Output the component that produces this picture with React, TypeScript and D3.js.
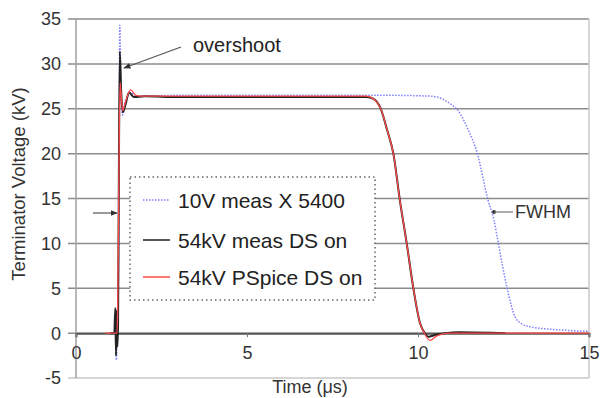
import { useRef, useEffect } from 'react'
import * as d3 from 'd3'

// time (us) / voltage (kV)
const blueT = [1.0, 1.15, 1.18, 1.21, 1.25, 1.28, 1.31, 1.36, 1.45, 1.6, 1.8, 3, 6, 9, 10.4, 10.7, 11.0, 11.17, 11.45, 11.72, 12.05, 12.22, 12.35, 12.6, 12.84, 13.05, 13.3, 14, 15]
const blueV = [0, 0, -3, 1, 10, 34.3, 28, 24.3, 26, 26.8, 26.4, 26.5, 26.5, 26.5, 26.4, 26.1, 25.4, 24.8, 22.8, 20.2, 14.8, 12.6, 10, 5.1, 1.8, 1.0, 0.7, 0.4, 0.2]

const blackT = [1.0, 1.12, 1.15, 1.17, 1.19, 1.21, 1.23, 1.25, 1.28, 1.32, 1.37, 1.45, 1.55, 1.7, 2.0, 3, 5, 7, 8.5, 8.7, 8.9, 9.1, 9.28, 9.47, 9.67, 9.86, 10.06, 10.2, 10.3, 10.5, 10.8, 11.2, 12.55]
const blackV = [0, 0, 2.8, -2.5, 2.5, -1.5, 1, 15, 31.4, 27, 24.6, 25.5, 26.8, 26.3, 26.4, 26.3, 26.3, 26.3, 26.3, 26.1, 25.1, 22.6, 20, 14.8, 10, 5.1, 1.1, 0, -0.4, -0.2, 0, 0.1, 0]

const redT = [0.85, 1.2, 1.22, 1.26, 1.29, 1.33, 1.37, 1.45, 1.6, 1.75, 2.0, 4, 6, 8.5, 8.7, 8.9, 9.1, 9.28, 9.47, 9.67, 9.86, 10.06, 10.2, 10.35, 10.55, 10.9, 12, 15]
const redV = [0, 0, 3, 20, 27.9, 26, 24.8, 25.8, 27.1, 26.5, 26.4, 26.4, 26.4, 26.4, 26.1, 25.1, 22.6, 20, 14.8, 10, 5.1, 1.1, -0.1, -0.8, -0.3, 0, 0, 0]

const xTicks = [0, 5, 10, 15]
const yTicks = [-5, 0, 5, 10, 15, 20, 25, 30, 35]
const legendLabels = ['10V meas X 5400', '54kV meas DS on', '54kV PSpice DS on']

const W = 601
const H = 398
const FONT = 'Liberation Sans, Arial, sans-serif'

const App = () => {
  const svgRef = useRef<SVGSVGElement>(null)

  useEffect(() => {
    const svg = d3.select(svgRef.current)
    svg.selectAll('*').remove()

    const x = d3.scaleLinear().domain([0, 15]).range([76, 589])
    const y = d3.scaleLinear().domain([-5, 35]).range([378, 19])

    // gridlines
    svg.append('g')
      .selectAll('line')
      .data(yTicks)
      .join('line')
      .attr('x1', 68)
      .attr('x2', 589)
      .attr('y1', d => y(d))
      .attr('y2', d => y(d))
      .attr('stroke', d => (d === -5 ? '#c8c8c8' : '#8c8c8c'))
      .attr('stroke-width', 1.5)

    // frame
    svg.append('line').attr('x1', x(0)).attr('x2', x(0)).attr('y1', y(35)).attr('y2', y(-5))
      .attr('stroke', '#a0a0a0').attr('stroke-width', 1.5)
    svg.append('line').attr('x1', x(15)).attr('x2', x(15)).attr('y1', y(35)).attr('y2', y(-5))
      .attr('stroke', '#c8c8c8').attr('stroke-width', 1.5)

    // y tick labels
    svg.append('g')
      .selectAll('text')
      .data(yTicks)
      .join('text')
      .attr('x', 61)
      .attr('y', d => y(d))
      .attr('dy', '0.36em')
      .attr('text-anchor', 'end')
      .attr('font-size', 18)
      .attr('fill', '#333')
      .text(d => d)

    // x axis at 0
    const xAxis = d3.axisBottom(x).tickValues(xTicks).tickSize(4).tickFormat(d3.format('d'))
    const ax = svg.append('g').attr('transform', `translate(0,${y(0)})`).call(xAxis)
    ax.select('.domain').attr('stroke', '#555').attr('stroke-width', 2)
    ax.selectAll('.tick line').attr('stroke', '#777')
    ax.selectAll('.tick text').attr('font-size', 18).attr('font-family', FONT).attr('fill', '#333').attr('dy', '1.05em')

    const line = d3.line<[number, number]>()
      .x(d => x(d[0]))
      .y(d => y(d[1]))
      .curve(d3.curveMonotoneX)

    const zip = (t: number[], v: number[]) => t.map((tt, i) => [tt, v[i]] as [number, number])

    svg.append('path').attr('d', line(zip(blueT, blueV)))
      .attr('fill', 'none').attr('stroke', '#7f7fff').attr('stroke-width', 1.5)
      .attr('stroke-dasharray', '1.5,1.5')
    svg.append('path').attr('d', line(zip(blackT, blackV)))
      .attr('fill', 'none').attr('stroke', '#222').attr('stroke-width', 2)
    svg.append('path').attr('d', line(zip(redT, redV)))
      .attr('fill', 'none').attr('stroke', '#ff4a4a').attr('stroke-width', 1.3)

    // legend
    const lg = svg.append('g')
    lg.append('rect').attr('x', 130).attr('y', 177).attr('width', 245).attr('height', 123)
      .attr('fill', 'white').attr('stroke', '#666').attr('stroke-width', 1.5)
      .attr('stroke-dasharray', '1.5,3')
    const legendColors = ['#7f7fff', '#222', '#ff4a4a']
    const legendY = [200, 240, 277]
    legendLabels.forEach((lab, i) => {
      lg.append('line').attr('x1', 143).attr('x2', 170).attr('y1', legendY[i]).attr('y2', legendY[i])
        .attr('stroke', legendColors[i]).attr('stroke-width', 1.5)
        .attr('stroke-dasharray', i === 0 ? '1.5,1.5' : null)
      lg.append('text').attr('x', 178).attr('y', legendY[i]).attr('dy', '0.36em')
        .attr('font-size', 21).attr('fill', '#222').text(lab)
    })

    // annotations
    const defs = svg.append('defs')
    defs.append('marker').attr('id', 'ah').attr('viewBox', '0 0 10 10').attr('refX', 9).attr('refY', 5)
      .attr('markerWidth', 6).attr('markerHeight', 6).attr('orient', 'auto')
      .append('path').attr('d', 'M0,1L10,5L0,9z').attr('fill', '#333')

    svg.append('line').attr('x1', 181).attr('y1', 47).attr('x2', 124).attr('y2', 68)
      .attr('stroke', '#555').attr('stroke-width', 1.2).attr('marker-end', 'url(#ah)')
    svg.append('text').attr('x', 193).attr('y', 52).attr('font-size', 20).attr('fill', '#222').text('overshoot')

    svg.append('line').attr('x1', 93).attr('y1', 213).attr('x2', 117).attr('y2', 213)
      .attr('stroke', '#555').attr('stroke-width', 1.2).attr('marker-end', 'url(#ah)')

    svg.append('circle').attr('cx', 494).attr('cy', 212).attr('r', 2).attr('fill', '#333')
    svg.append('line').attr('x1', 494).attr('y1', 212).attr('x2', 513).attr('y2', 212)
      .attr('stroke', '#777').attr('stroke-width', 1.2)
    svg.append('text').attr('x', 515).attr('y', 212).attr('dy', '0.36em').attr('font-size', 18)
      .attr('fill', '#333').text('FWHM')

    // axis titles
    svg.append('text').attr('x', 310).attr('y', 393).attr('text-anchor', 'middle')
      .attr('font-size', 18).attr('fill', '#333').text('Time (\u03bcs)')
    svg.append('text').attr('transform', 'translate(25,184) rotate(-90)').attr('text-anchor', 'middle')
      .attr('font-size', 18.5).attr('fill', '#333').text('Terminator Voltage (kV)')
  }, [])

  return (
    <svg ref={svgRef} width={W} height={H}
      style={{ position: 'absolute', left: 0, top: 0, background: 'white', fontFamily: FONT }} />
  )
}

export default App
